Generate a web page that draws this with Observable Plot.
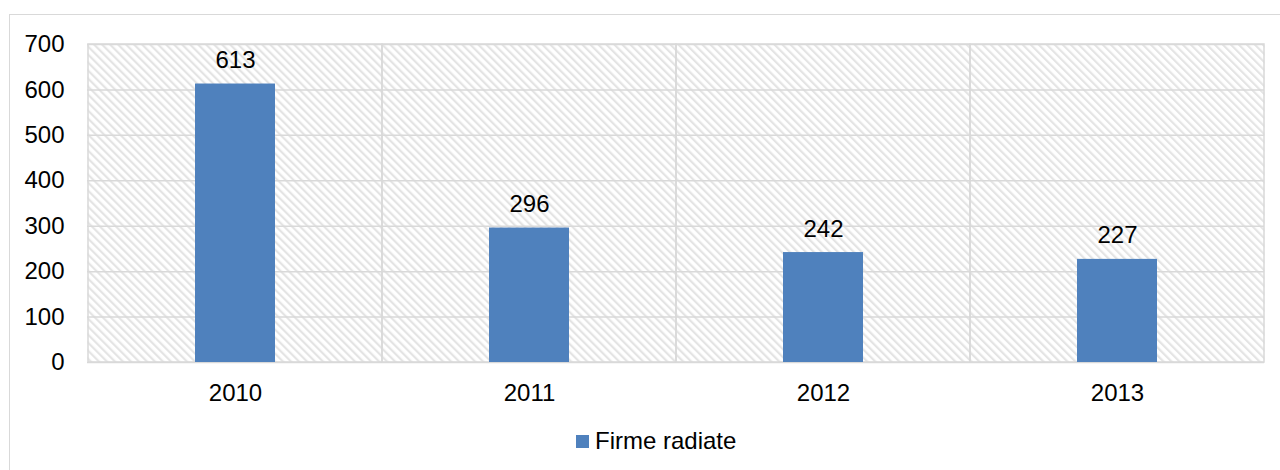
<!DOCTYPE html>
<html>
<head>
<meta charset="utf-8">
<script src="https://cdn.jsdelivr.net/npm/d3@7"></script>
<script src="https://cdn.jsdelivr.net/npm/@observablehq/plot@0.6"></script>
<style>
  html, body { margin: 0; padding: 0; background: #fff; overflow: hidden; width: 1280px; height: 470px; }
  body { position: relative; font-family: "Liberation Sans", Arial, sans-serif; }
  #border { position: absolute; left: 9px; top: 14px; width: 1400px; height: 600px; border: 1.5px solid #d9d9d9; box-sizing: border-box; }
  #chart { position: absolute; left: 0; top: 0; }
  #legend { position: absolute; left: 576px; top: 427px; font-size: 24px; color: #000; display: flex; align-items: center; white-space: nowrap; }
  #legend .sw { width: 13px; height: 13px; background: #4F81BD; margin-right: 6px; }
</style>
</head>
<body>
<div id="border"></div>
<div id="chart"></div>
<div id="legend"><span class="sw"></span><span id="legend-label"></span></div>
<script>
const years = ["2010", "2011", "2012", "2013"];
const values = [613, 296, 242, 227];
const yTicks = [0, 100, 200, 300, 400, 500, 600, 700];
const seriesName = "Firme radiate";

const data = years.map((year, i) => ({year, value: values[i]}));
const cells = years.map(year => ({year, top: yTicks[yTicks.length - 1]}));

const gridColor = "#d9d9d9";
const barColor = "#4F81BD";

const svg = Plot.plot({
  width: 1280,
  height: 420,
  marginLeft: 87,
  marginRight: 16,
  marginTop: 44,
  marginBottom: 58,
  style: {fontFamily: "'Liberation Sans', Arial, sans-serif", fontSize: "24px", color: "#000", background: "transparent"},
  x: {domain: years, padding: 0, label: null, tickSize: 0, tickPadding: 21},
  y: {domain: [0, 700], ticks: yTicks, label: null, tickSize: 0, tickPadding: 23},
  marks: [
    Plot.frame({fill: "url(#hatch)", stroke: null}),
    Plot.gridY(yTicks, {stroke: gridColor, strokeOpacity: 1, strokeWidth: 1.5}),
    Plot.barY(cells, {x: "year", y: "top", fill: "none", stroke: gridColor, strokeWidth: 1.5}),
    Plot.barY(data, {x: "year", y: "value", fill: barColor, insetLeft: 107, insetRight: 107}),
    Plot.text(data, {x: "year", y: "value", text: d => String(d.value), lineAnchor: "bottom", dy: -16, fill: "#000", fontSize: 24}),
    Plot.axisX({tickSize: 0, tickPadding: 21, fontSize: 24}),
    Plot.axisY({ticks: yTicks, tickSize: 0, tickPadding: 23, fontSize: 24})
  ]
});

const ns = "http://www.w3.org/2000/svg";
const defs = document.createElementNS(ns, "defs");
defs.innerHTML = '<pattern id="hatch" patternUnits="userSpaceOnUse" width="5.66" height="5.66" patternTransform="rotate(-45)"><rect width="5.66" height="5.66" fill="#ffffff"/><rect x="0" y="0" width="2.2" height="5.66" fill="#e4e4e4"/></pattern>';
svg.insertBefore(defs, svg.firstChild);

document.getElementById("chart").appendChild(svg);
document.getElementById("legend-label").textContent = seriesName;
</script>
</body>
</html>
